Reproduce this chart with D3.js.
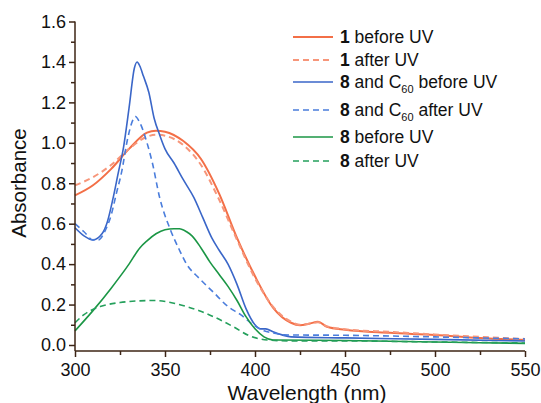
<!DOCTYPE html>
<html>
<head>
<meta charset="utf-8">
<script src="https://cdn.jsdelivr.net/npm/d3@7"></script>
<style>
  body { margin: 0; background: #fff; }
  text { font-family: "Liberation Sans", Arial, sans-serif; }
</style>
</head>
<body>
<svg id="chart"></svg>
<script>
const svgWidth = 541, svgHeight = 403;

// wavelengths (nm) and absorbance per series
const wl1Before = [300, 310, 320, 330, 340, 345, 350, 360, 370, 380, 390, 400, 410, 420, 425, 430, 435, 440, 450, 475, 500, 525, 550];
const a1Before  = [0.74, 0.79, 0.87, 0.97, 1.05, 1.06, 1.055, 1.01, 0.92, 0.75, 0.53, 0.34, 0.185, 0.11, 0.098, 0.105, 0.115, 0.09, 0.075, 0.06, 0.05, 0.035, 0.025];

const wl1After = [300, 310, 320, 330, 340, 345, 350, 360, 370, 380, 390, 400, 410, 420, 425, 430, 435, 440, 450, 475, 500, 525, 550];
const a1After  = [0.79, 0.83, 0.89, 0.97, 1.03, 1.04, 1.035, 0.99, 0.89, 0.72, 0.52, 0.33, 0.19, 0.115, 0.1, 0.105, 0.112, 0.092, 0.078, 0.065, 0.052, 0.04, 0.03];

const wl8C60Before = [300, 305, 310, 315, 318, 321, 324, 327, 330, 333, 334.5, 336, 338, 341, 344, 347, 350, 355, 360, 366, 371, 376, 380, 385, 390, 395, 400, 403, 406, 410, 415, 420, 450, 500, 550];
const a8C60Before  = [0.58, 0.54, 0.52, 0.55, 0.61, 0.72, 0.85, 0.98, 1.17, 1.37, 1.40, 1.38, 1.33, 1.25, 1.12, 1.04, 0.97, 0.90, 0.82, 0.73, 0.63, 0.53, 0.47, 0.40, 0.30, 0.18, 0.10, 0.08, 0.08, 0.065, 0.05, 0.04, 0.035, 0.028, 0.02];

const wl8C60After = [300, 305, 310, 313, 317, 320, 323, 326, 329, 332, 333.5, 336, 340, 343, 347, 353, 358, 362, 369, 377, 385, 392, 399, 405, 410, 416, 450, 500, 550];
const a8C60After  = [0.60, 0.56, 0.52, 0.52, 0.57, 0.64, 0.75, 0.86, 1.01, 1.11, 1.13, 1.10, 1.00, 0.90, 0.73, 0.57, 0.47, 0.40, 0.33, 0.26, 0.19, 0.15, 0.10, 0.07, 0.06, 0.05, 0.048, 0.04, 0.03];

const wl8Before = [300, 310, 320, 330, 336, 340, 345, 350, 355, 358, 362, 365, 370, 375, 380, 385, 390, 395, 400, 405, 410, 450, 500, 550];
const a8Before  = [0.07, 0.17, 0.28, 0.40, 0.48, 0.515, 0.55, 0.57, 0.575, 0.575, 0.56, 0.54, 0.48, 0.41, 0.35, 0.29, 0.22, 0.14, 0.08, 0.04, 0.025, 0.022, 0.015, 0.008];

const wl8After = [300, 305, 314, 325, 335, 345, 353, 362, 369, 377, 388, 397, 407, 420, 450, 500, 550];
const a8After  = [0.11, 0.15, 0.19, 0.21, 0.218, 0.22, 0.21, 0.19, 0.17, 0.14, 0.09, 0.045, 0.025, 0.02, 0.02, 0.015, 0.01];

const xTicks = [300, 350, 400, 450, 500, 550];
const yTicks = [0.0, 0.2, 0.4, 0.6, 0.8, 1.0, 1.2, 1.4, 1.6];

const seriesNames = ["1|before UV", "1|after UV", "8|and C|before UV", "8|and C|after UV", "8|before UV", "8|after UV"];

const axisColor = '#3c2415';

const series = [
  {wl: wl1Before, a: a1Before, color: '#f36f47', dash: null, width: 2},
  {wl: wl1After, a: a1After, color: '#f7967a', dash: '6,4', width: 2},
  {wl: wl8C60Before, a: a8C60Before, color: '#3a66c8', dash: null, width: 1.6},
  {wl: wl8C60After, a: a8C60After, color: '#4a7ddc', dash: '6,4', width: 1.6},
  {wl: wl8Before, a: a8Before, color: '#1b9645', dash: null, width: 1.6},
  {wl: wl8After, a: a8After, color: '#25a05c', dash: '6,4', width: 1.6}
];

const svg = d3.select('#chart')
  .attr('width', svgWidth)
  .attr('height', svgHeight);

const xScale = d3.scaleLinear()
  .domain([300, 550])
  .range([75, 525]);

const yScale = d3.scaleLinear()
  .domain([0, 1.6])
  .range([345, 21.5]);

const axisBottomY = 351;

// curves
const line = d3.line()
  .x(d => xScale(d[0]))
  .y(d => yScale(d[1]))
  .curve(d3.curveMonotoneX);

series.forEach(s => {
  svg.append('path')
    .datum(s.wl.map((w, i) => [w, s.a[i]]))
    .attr('d', line)
    .attr('fill', 'none')
    .attr('stroke', s.color)
    .attr('stroke-width', s.width)
    .attr('stroke-dasharray', s.dash);
});

// x axis
const xAxis = svg.append('g')
  .attr('transform', `translate(0,${axisBottomY})`)
  .call(d3.axisBottom(xScale).tickValues(xTicks).tickSize(6).tickSizeOuter(0).tickPadding(6));

svg.append('g')
  .attr('transform', `translate(0,${axisBottomY})`)
  .call(d3.axisBottom(xScale).tickValues([325, 375, 425, 475, 525]).tickSize(4).tickFormat('').tickSizeOuter(0))
  .call(g => g.select('.domain').remove());

// y axis
const yAxis = svg.append('g')
  .attr('transform', `translate(75,0)`)
  .call(d3.axisLeft(yScale).tickValues(yTicks).tickSize(6).tickSizeOuter(0).tickPadding(3).tickFormat(d3.format('.1f')));

svg.append('g')
  .attr('transform', `translate(75,0)`)
  .call(d3.axisLeft(yScale).tickValues([0.1, 0.3, 0.5, 0.7, 0.9, 1.1, 1.3, 1.5]).tickSize(4).tickFormat('').tickSizeOuter(0))
  .call(g => g.select('.domain').remove());

// stretch y domain line down to x axis
yAxis.select('.domain').attr('d', `M0,${yScale(1.6)}V${axisBottomY}`);
xAxis.select('.domain').attr('d', `M${xScale(300)},0H${xScale(550)}`);

svg.selectAll('.domain, .tick line')
  .attr('stroke', axisColor)
  .attr('stroke-width', 1.5);

svg.selectAll('.tick text')
  .attr('fill', '#111')
  .style('font-size', '18px')
  .style('font-family', '"Liberation Sans", Arial, sans-serif');

// axis titles
svg.append('text')
  .attr('x', 307)
  .attr('y', 400)
  .attr('text-anchor', 'middle')
  .attr('fill', '#111')
  .style('font-size', '21px')
  .text('Wavelength (nm)');

svg.append('text')
  .attr('transform', 'translate(26,183) rotate(-90)')
  .attr('text-anchor', 'middle')
  .attr('fill', '#111')
  .style('font-size', '20.5px')
  .text('Absorbance');

// legend
const legendY = [37, 60, 82, 110, 137, 161];

seriesNames.forEach((name, i) => {
  const s = series[i];
  const y = legendY[i];
  svg.append('line')
    .attr('x1', 293).attr('x2', 333)
    .attr('y1', y).attr('y2', y)
    .attr('stroke', s.color)
    .attr('stroke-width', s.width)
    .attr('stroke-dasharray', s.dash);

  const parts = name.split('|');
  const t = svg.append('text')
    .attr('x', 340)
    .attr('y', y + 6)
    .attr('fill', '#111')
    .style('font-size', '17.5px');
  t.append('tspan').attr('font-weight', 'bold').text(parts[0]);
  if (parts.length === 3) {
    t.append('tspan').text(' ' + parts[1]);
    t.append('tspan').attr('dy', 5).style('font-size', '11px').text('60');
    t.append('tspan').attr('dy', -5).text(' ' + parts[2]);
  } else {
    t.append('tspan').text(' ' + parts[1]);
  }
});
</script>
</body>
</html>
